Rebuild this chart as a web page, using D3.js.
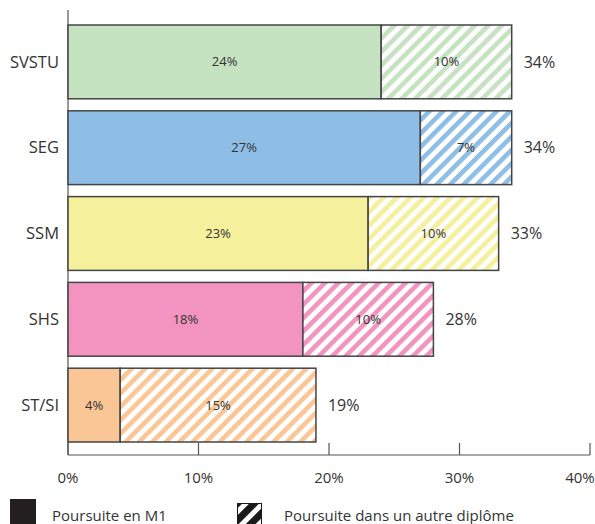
<!DOCTYPE html>
<html>
<head>
<meta charset="utf-8">
<script src="https://cdn.jsdelivr.net/npm/d3@7"></script>
<style>
  body { margin: 0; background: #fff; }
  svg { display: block; font-family: "Open Sans", "DejaVu Sans", sans-serif; }
</style>
</head>
<body>
<svg id="chart" width="595" height="524"></svg>
<script>
// data
var categories = ["SVSTU", "SEG", "SSM", "SHS", "ST/SI"];
var m1Values = [24, 27, 23, 18, 4];
var otherValues = [10, 7, 10, 10, 15];
var totalValues = [34, 34, 33, 28, 19];
var barColors = ["#c5e2c1", "#8ebee6", "#f5f09c", "#f294bf", "#fbc696"];
var xTicks = [0, 10, 20, 30, 40];
var legendLabels = ["Poursuite en M1", "Poursuite dans un autre diplôme"];

var svg = d3.select("#chart");
var textColor = "#333";

var x = d3.scaleLinear().domain([0, 40]).range([68, 590]);
var y = d3.scaleBand().domain(categories).range([19, 448])
    .paddingInner(0.14).paddingOuter(0.07);

var rows = categories.map(function (c, i) {
    return { cat: c, m1: m1Values[i], other: otherValues[i], total: totalValues[i], color: barColors[i], idx: i };
});

// stripe patterns, one per colour
var defs = svg.append("defs");
rows.forEach(function (d) {
    var p = defs.append("pattern")
        .attr("id", "hatch" + d.idx)
        .attr("patternUnits", "userSpaceOnUse")
        .attr("width", 9.5)
        .attr("height", 9.5)
        .attr("patternTransform", "rotate(45)");
    p.append("rect").attr("width", 9.5).attr("height", 9.5).attr("fill", "#fff");
    p.append("rect").attr("width", 4.6).attr("height", 9.5).attr("fill", d.color);
});
var lp = defs.append("pattern")
    .attr("id", "hatchLegend")
    .attr("patternUnits", "userSpaceOnUse")
    .attr("width", 12)
    .attr("height", 12)
    .attr("patternTransform", "translate(237,503) rotate(45)");
lp.append("rect").attr("width", 12).attr("height", 12).attr("fill", "#1a1a1a");
lp.append("rect").attr("x", 4).attr("width", 5).attr("height", 12).attr("fill", "#fff");

// axes lines
svg.append("line")
    .attr("x1", x(0)).attr("x2", x(0))
    .attr("y1", 10).attr("y2", 455)
    .attr("stroke", "#555").attr("stroke-width", 1.2);

var xAxis = svg.append("g").attr("transform", "translate(0,455)");
xAxis.append("line")
    .attr("x1", x(0)).attr("x2", x(40))
    .attr("stroke", "#555").attr("stroke-width", 1.2);
xAxis.selectAll(".tick")
    .data(xTicks)
    .enter()
    .append("line")
    .attr("x1", function (d) { return x(d); })
    .attr("x2", function (d) { return x(d); })
    .attr("y1", -12).attr("y2", 0)
    .attr("stroke", "#555").attr("stroke-width", 1.2);
// last label is pushed in so it stays inside the page
xAxis.selectAll(".ticklabel")
    .data(xTicks)
    .enter()
    .append("text")
    .attr("x", function (d) { return Math.min(x(d), 580); })
    .attr("y", 28)
    .attr("text-anchor", "middle")
    .attr("font-size", 15)
    .attr("fill", textColor)
    .text(function (d) { return d + "%"; });

// bars
var bars = svg.append("g");
bars.selectAll(".m1")
    .data(rows)
    .enter()
    .append("rect")
    .attr("x", x(0))
    .attr("y", function (d) { return y(d.cat); })
    .attr("width", function (d) { return x(d.m1) - x(0); })
    .attr("height", y.bandwidth())
    .attr("fill", function (d) { return d.color; })
    .attr("stroke", "#444")
    .attr("stroke-width", 1.5);

bars.selectAll(".other")
    .data(rows)
    .enter()
    .append("rect")
    .attr("x", function (d) { return x(d.m1); })
    .attr("y", function (d) { return y(d.cat); })
    .attr("width", function (d) { return x(d.m1 + d.other) - x(d.m1); })
    .attr("height", y.bandwidth())
    .attr("fill", function (d) { return "url(#hatch" + d.idx + ")"; })
    .attr("stroke", "#444")
    .attr("stroke-width", 1.5);

// segment labels
bars.selectAll(".m1label")
    .data(rows)
    .enter()
    .append("text")
    .attr("x", function (d) { return x(d.m1 / 2); })
    .attr("y", function (d) { return y(d.cat) + y.bandwidth() / 2; })
    .attr("dy", "0.35em")
    .attr("text-anchor", "middle")
    .attr("font-size", 13)
    .attr("fill", textColor)
    .text(function (d) { return d.m1 + "%"; });

bars.selectAll(".otherlabel")
    .data(rows)
    .enter()
    .append("text")
    .attr("x", function (d) { return x(d.m1 + d.other / 2); })
    .attr("y", function (d) { return y(d.cat) + y.bandwidth() / 2; })
    .attr("dy", "0.35em")
    .attr("text-anchor", "middle")
    .attr("font-size", 13)
    .attr("fill", textColor)
    .text(function (d) { return d.other + "%"; });

bars.selectAll(".total")
    .data(rows)
    .enter()
    .append("text")
    .attr("x", function (d) { return x(d.total) + 12; })
    .attr("y", function (d) { return y(d.cat) + y.bandwidth() / 2; })
    .attr("dy", "0.35em")
    .attr("font-size", 16)
    .attr("fill", textColor)
    .text(function (d) { return d.total + "%"; });

// category labels
svg.selectAll(".cat")
    .data(rows)
    .enter()
    .append("text")
    .attr("x", 59)
    .attr("y", function (d) { return y(d.cat) + y.bandwidth() / 2; })
    .attr("dy", "0.35em")
    .attr("text-anchor", "end")
    .attr("font-size", 16.5)
    .attr("fill", textColor)
    .text(function (d) { return d.cat; });

// legend
var legend = svg.append("g");
legend.append("rect")
    .attr("x", 10).attr("y", 499)
    .attr("width", 26).attr("height", 26)
    .attr("fill", "#231f20");
legend.append("text")
    .attr("x", 52).attr("y", 521)
    .attr("font-size", 15)
    .attr("fill", textColor)
    .text(legendLabels[0]);
legend.append("rect")
    .attr("x", 237.5).attr("y", 503.5)
    .attr("width", 24).attr("height", 22)
    .attr("fill", "url(#hatchLegend)")
    .attr("stroke", "#1a1a1a")
    .attr("stroke-width", 1);
legend.append("text")
    .attr("x", 284).attr("y", 521)
    .attr("font-size", 15)
    .attr("fill", textColor)
    .text(legendLabels[1]);
</script>
</body>
</html>
